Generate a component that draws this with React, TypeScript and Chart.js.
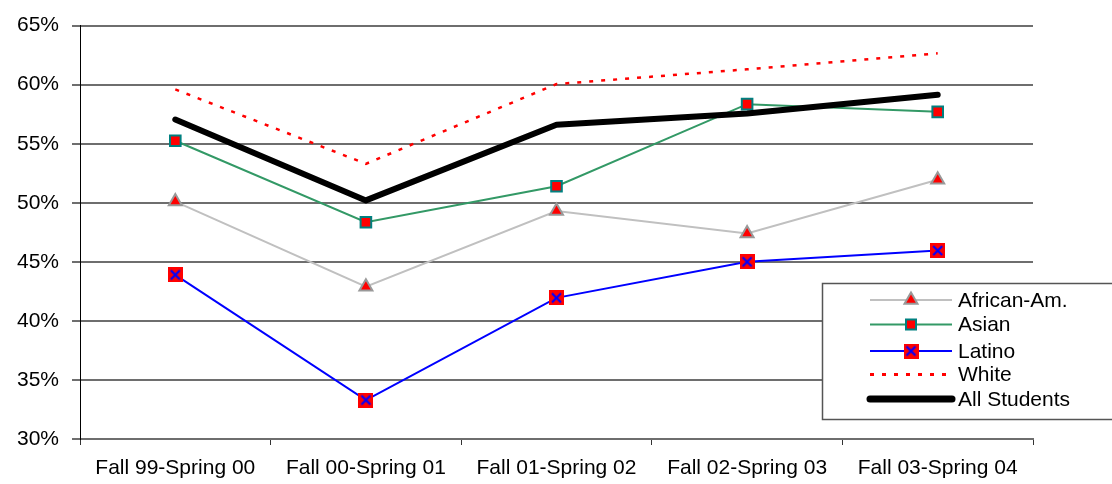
import React, { useEffect, useRef } from "react";
import { Chart, registerables } from "chart.js";

Chart.register(...registerables);

const categories = [
  "Fall 99-Spring 00",
  "Fall 00-Spring 01",
  "Fall 01-Spring 02",
  "Fall 02-Spring 03",
  "Fall 03-Spring 04",
];
const africanAm = [50.1, 42.9, 49.3, 47.4, 51.95];
const asian = [55.25, 48.35, 51.4, 58.35, 57.7];
const latino = [43.9, 33.3, 41.95, 45.0, 45.95];
const white = [59.6, 53.3, 60.05, 61.3, 62.65];
const allStudents = [57.05, 50.2, 56.6, 57.55, 59.15];
const yTicks = { min: 30, max: 65, step: 5 };
const legendLabels = ["African-Am.", "Asian", "Latino", "White", "All Students"];

const FONT = "'Liberation Sans', Arial, sans-serif";

function makeLatinoMarker(): HTMLCanvasElement {
  const c = document.createElement("canvas");
  c.width = 15;
  c.height = 15;
  const g = c.getContext("2d")!;
  g.fillStyle = "#ff0000";
  g.fillRect(0, 0, 15, 15);
  g.strokeStyle = "#0000ff";
  g.lineWidth = 2.2;
  g.beginPath();
  g.moveTo(3, 3);
  g.lineTo(12, 12);
  g.moveTo(12, 3);
  g.lineTo(3, 12);
  g.stroke();
  return c;
}

function drawTriangle(ctx: CanvasRenderingContext2D, x: number, y: number, r: number) {
  ctx.beginPath();
  ctx.moveTo(x, y - r);
  ctx.lineTo(x - r * Math.sin(Math.PI / 3), y + r / 2);
  ctx.lineTo(x + r * Math.sin(Math.PI / 3), y + r / 2);
  ctx.closePath();
  ctx.fillStyle = "#ff0000";
  ctx.fill();
  ctx.strokeStyle = "#999999";
  ctx.lineWidth = 2;
  ctx.stroke();
}

export default function App() {
  const ref = useRef<HTMLCanvasElement | null>(null);

  useEffect(() => {
    document.body.style.margin = "0";
    const latinoMarker = makeLatinoMarker();

    const legendPlugin = {
      id: "customLegend",
      afterDraw(chart: any) {
        const ctx: CanvasRenderingContext2D = chart.ctx;
        ctx.save();
        const bx = 822.5, by = 283.5, bw = 300, bh = 136;
        ctx.fillStyle = "#ffffff";
        ctx.fillRect(bx, by, bw, bh);
        ctx.strokeStyle = "#555555";
        ctx.lineWidth = 1.5;
        ctx.strokeRect(bx, by, bw, bh);

        const rows = [300, 324.5, 351, 374.5, 399];
        const x0 = 870, x1 = 952, mx = 911, tx = 958;
        ctx.font = `21px ${FONT}`;
        ctx.textBaseline = "middle";
        rows.forEach((y, i) => {
          ctx.setLineDash([]);
          ctx.lineCap = "butt";
          if (i === 0) {
            ctx.strokeStyle = "#c0c0c0"; ctx.lineWidth = 2;
            ctx.beginPath(); ctx.moveTo(x0, y); ctx.lineTo(x1, y); ctx.stroke();
            drawTriangle(ctx, mx, y, 7.5);
          } else if (i === 1) {
            ctx.strokeStyle = "#339966"; ctx.lineWidth = 2;
            ctx.beginPath(); ctx.moveTo(x0, y); ctx.lineTo(x1, y); ctx.stroke();
            ctx.fillStyle = "#ff0000"; ctx.fillRect(mx - 5, y - 5, 10, 10);
            ctx.strokeStyle = "#008080"; ctx.lineWidth = 2; ctx.strokeRect(mx - 5, y - 5, 10, 10);
          } else if (i === 2) {
            ctx.strokeStyle = "#0000ff"; ctx.lineWidth = 2;
            ctx.beginPath(); ctx.moveTo(x0, y); ctx.lineTo(x1, y); ctx.stroke();
            ctx.drawImage(latinoMarker, mx - 7.5, y - 7.5);
          } else if (i === 3) {
            ctx.strokeStyle = "#ff0000"; ctx.lineWidth = 3;
            ctx.setLineDash([4, 8]);
            ctx.beginPath(); ctx.moveTo(x0, y); ctx.lineTo(x1 - 4, y); ctx.stroke();
            ctx.setLineDash([]);
          } else {
            ctx.strokeStyle = "#000000"; ctx.lineWidth = 7; ctx.lineCap = "round";
            ctx.beginPath(); ctx.moveTo(x0, y); ctx.lineTo(x1, y); ctx.stroke();
          }
          ctx.fillStyle = "#000000";
          ctx.textAlign = "left";
          ctx.fillText(legendLabels[i], tx, y + 1);
        });
        ctx.restore();
      },
    };

    const chart = new Chart(ref.current!, {
      type: "line",
      data: {
        labels: categories,
        datasets: [
          {
            label: legendLabels[0],
            data: africanAm,
            borderColor: "#c0c0c0",
            borderWidth: 2,
            pointStyle: "triangle",
            pointRadius: 7.5,
            pointBackgroundColor: "#ff0000",
            pointBorderColor: "#999999",
            pointBorderWidth: 2,
            order: 4,
          },
          {
            label: legendLabels[1],
            data: asian,
            borderColor: "#339966",
            borderWidth: 2,
            pointStyle: "rect",
            pointRadius: 7.5,
            pointBackgroundColor: "#ff0000",
            pointBorderColor: "#008080",
            pointBorderWidth: 2,
            order: 3,
          },
          {
            label: legendLabels[2],
            data: latino,
            borderColor: "#0000ff",
            borderWidth: 2,
            pointStyle: latinoMarker,
            pointRadius: 7.5,
            order: 2,
          },
          {
            label: legendLabels[3],
            data: white,
            borderColor: "#ff0000",
            borderWidth: 2.5,
            borderDash: [4, 8],
            pointRadius: 0,
            order: 1,
          },
          {
            label: legendLabels[4],
            data: allStudents,
            borderColor: "#000000",
            borderWidth: 6,
            borderCapStyle: "round",
            borderJoinStyle: "round",
            pointRadius: 0,
            order: 0,
          },
        ],
      },
      options: {
        responsive: true,
        maintainAspectRatio: false,
        animation: false,
        layout: { padding: { top: 24, right: 79, left: 0, bottom: 0 } },
        plugins: {
          legend: { display: false },
          tooltip: { enabled: false },
        },
        elements: { line: { tension: 0 } },
        scales: {
          x: {
            offset: true,
            grid: {
              offset: true,
              drawOnChartArea: false,
              drawTicks: true,
              tickLength: 6,
              color: "#333333",
            },
            border: { display: true, color: "#6e6e6e", width: 2 },
            ticks: {
              color: "#000000",
              font: { family: FONT, size: 21 },
              padding: 11,
              maxRotation: 0,
              autoSkip: false,
            },
            afterFit(scale: any) {
              scale.height = 45;
            },
          },
          y: {
            min: yTicks.min,
            max: yTicks.max,
            grid: {
              color: "#6e6e6e",
              lineWidth: 2,
              tickLength: 8,
            },
            border: { display: true, color: "#000000", width: 1 },
            ticks: {
              stepSize: yTicks.step,
              color: "#000000",
              font: { family: FONT, size: 21 },
              padding: 13,
              callback: (v: any) => `${v}%`,
            },
            afterFit(scale: any) {
              scale.width = 80;
            },
          },
        },
      },
      plugins: [legendPlugin],
    });
    return () => chart.destroy();
  }, []);

  return (
    <div style={{ width: 1112, height: 484, position: "relative" }}>
      <canvas ref={ref} />
    </div>
  );
}
